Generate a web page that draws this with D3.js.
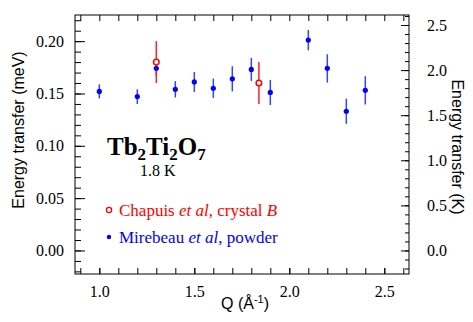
<!DOCTYPE html>
<html>
<head>
<meta charset="utf-8">
<script src="https://cdn.jsdelivr.net/npm/d3@7"></script>
<style>
  body { margin: 0; background: #fff; }
  svg text { font-family: "Liberation Serif", "Times New Roman", serif; }
</style>
</head>
<body>
<svg id="chart"></svg>
<script>
// Mirebeau et al, powder
const qBlue   = [1.0, 1.2, 1.3, 1.4, 1.5, 1.6, 1.7, 1.8, 1.9, 2.1, 2.2, 2.3, 2.4];
const eBlue   = [0.152, 0.147, 0.174, 0.154, 0.161, 0.155, 0.164, 0.173, 0.151, 0.201, 0.174, 0.133, 0.153];
const errBlue = [0.0067, 0.007, 0.0072, 0.0078, 0.0095, 0.0092, 0.012, 0.011, 0.012, 0.0097, 0.0135, 0.012, 0.0135];
// Chapuis et al, crystal B
const qRed   = [1.3, 1.84];
const eRed   = [0.18, 0.16];
const errRed = [0.02, 0.02];

const xTicks = [1.0, 1.5, 2.0, 2.5];
const yTicks = [0, 0.05, 0.10, 0.15, 0.20];
const kTicks = [0, 0.5, 1.0, 1.5, 2.0, 2.5];
const meVtoK = 11.6045;

(function () {
const W = 473, H = 322;
const margin = {top: 15, right: 64, bottom: 48, left: 75},
    width = W - margin.left - margin.right,
    height = H - margin.top - margin.bottom;

const serif = "'Liberation Serif', 'Times New Roman', serif";
const sans = "'Liberation Sans', Arial, sans-serif";

const svg = d3.select("#chart").attr("width", W).attr("height", H)
  .append("g").attr("transform", `translate(${margin.left},${margin.top})`);

const x = d3.scaleLinear().domain([0.872, 2.63]).range([0, width]);
const y = d3.scaleLinear().domain([-0.0225, 0.225]).range([height, 0]);
const yK = d3.scaleLinear().domain(y.domain().map(v => v * meVtoK)).range([height, 0]);

const fmt2 = d3.format(".2f"), fmt1 = d3.format(".1f");
const minorX = d3.range(0.9, 2.65, 0.1);
const minorY = d3.range(-0.02, 0.2201, 0.01);
const minorK = d3.range(-0.2, 2.61, 0.1);

function styleAxis(g) {
  g.attr("font-family", null);
  g.select(".domain").remove();
  g.selectAll("line").attr("stroke", "#000").attr("stroke-width", 1);
  g.selectAll("text").style("font-size", "16px").style("font-family", serif).attr("fill", "#000");
}

// bottom
svg.append("g").attr("transform", `translate(0,${height})`)
  .call(d3.axisBottom(x).tickValues(minorX).tickSize(-6).tickFormat(""))
  .call(styleAxis);
svg.append("g").attr("transform", `translate(0,${height})`)
  .call(d3.axisBottom(x).tickValues(xTicks).tickSize(-6).tickPadding(12).tickFormat(fmt1))
  .call(styleAxis);
// top
svg.append("g")
  .call(d3.axisTop(x).tickValues(minorX).tickSize(-6).tickFormat(""))
  .call(styleAxis);
// left
svg.append("g")
  .call(d3.axisLeft(y).tickValues(minorY).tickSize(-6).tickFormat(""))
  .call(styleAxis);
svg.append("g")
  .call(d3.axisLeft(y).tickValues(yTicks).tickSize(-10).tickPadding(11).tickFormat(fmt2))
  .call(styleAxis);
// right (K)
svg.append("g").attr("transform", `translate(${width},0)`)
  .call(d3.axisRight(yK).tickValues(minorK.filter(v => v > yK.domain()[0] && v < yK.domain()[1])).tickSize(-4).tickFormat(""))
  .call(styleAxis);
svg.append("g").attr("transform", `translate(${width},0)`)
  .call(d3.axisRight(yK).tickValues(kTicks).tickSize(-8).tickPadding(18).tickFormat(fmt1))
  .call(styleAxis);

// frame
svg.append("rect").attr("width", width).attr("height", height)
  .attr("fill", "none").attr("stroke", "#000").attr("stroke-width", 1);

// axis titles
svg.append("text")
  .attr("transform", `translate(${18 - margin.left},${130 - margin.top}) rotate(-90)`)
  .attr("text-anchor", "middle").attr("dominant-baseline", "central")
  .style("font-family", sans).style("font-size", "16px")
  .text("Energy transfer (meV)");
svg.append("text")
  .attr("transform", `translate(${457 - margin.left},${147 - margin.top}) rotate(90)`)
  .attr("text-anchor", "middle").attr("dominant-baseline", "central")
  .style("font-family", sans).style("font-size", "16px")
  .text("Energy transfer (K)");
const xt = svg.append("text")
  .attr("x", 245 - margin.left).attr("y", 309 - margin.top)
  .attr("text-anchor", "middle")
  .style("font-family", sans).style("font-size", "16px");
xt.append("tspan").text("Q (Å");
xt.append("tspan").attr("dy", -6).style("font-size", "11px").text("-1");
xt.append("tspan").attr("dy", 6).text(")");

// data
const blue = qBlue.map((q, i) => ({q, e: eBlue[i], err: errBlue[i]}));
const red = qRed.map((q, i) => ({q, e: eRed[i], err: errRed[i]}));

svg.selectAll(".eb-blue").data(blue).enter().append("line")
  .attr("x1", d => x(d.q)).attr("x2", d => x(d.q))
  .attr("y1", d => y(d.e - d.err)).attr("y2", d => y(d.e + d.err))
  .attr("stroke", "#3344ff").attr("stroke-width", 1.5);
svg.selectAll(".eb-red").data(red).enter().append("line")
  .attr("x1", d => x(d.q)).attr("x2", d => x(d.q))
  .attr("y1", d => y(d.e - d.err)).attr("y2", d => y(d.e + d.err))
  .attr("stroke", "#ff2020").attr("stroke-width", 1.5);
svg.selectAll(".pt-blue").data(blue).enter().append("circle")
  .attr("cx", d => x(d.q)).attr("cy", d => y(d.e)).attr("r", 2.6)
  .attr("fill", "#0000ff");
svg.selectAll(".pt-red").data(red).enter().append("circle")
  .attr("cx", d => x(d.q)).attr("cy", d => y(d.e)).attr("r", 2.8)
  .attr("fill", "#fff").attr("stroke", "#ff0000").attr("stroke-width", 1.5);

// annotations
const tb = svg.append("text")
  .attr("x", 107 - margin.left).attr("y", 155 - margin.top)
  .style("font-size", "25px").style("font-weight", "bold");
[["Tb", false], ["2", true], ["Ti", false], ["2", true], ["O", false], ["7", true]].forEach(([t, sub]) => {
  tb.append("tspan").attr("dy", sub ? 5 : (t === "Tb" ? 0 : -5))
    .style("font-size", sub ? "17px" : "25px").text(t);
});
svg.append("text").attr("x", 140 - margin.left).attr("y", 176 - margin.top)
  .style("font-size", "16px").text("1.8 K");

// legend
svg.append("circle").attr("cx", 109 - margin.left).attr("cy", 210 - margin.top).attr("r", 2.6)
  .attr("fill", "#fff").attr("stroke", "#ff0000").attr("stroke-width", 1.3);
const l1 = svg.append("text").attr("x", 119 - margin.left).attr("y", 216 - margin.top)
  .attr("fill", "#ff0000").style("font-size", "17px");
l1.append("tspan").text("Chapuis ");
l1.append("tspan").style("font-style", "italic").text("et al");
l1.append("tspan").text(", crystal ");
l1.append("tspan").style("font-style", "italic").text("B");

svg.append("circle").attr("cx", 109 - margin.left).attr("cy", 237 - margin.top).attr("r", 2.2)
  .attr("fill", "#0000ff");
const l2 = svg.append("text").attr("x", 119 - margin.left).attr("y", 243 - margin.top)
  .attr("fill", "#0000ff").style("font-size", "17px");
l2.append("tspan").text("Mirebeau ");
l2.append("tspan").style("font-style", "italic").text("et al");
l2.append("tspan").text(", powder");
})();
</script>
</body>
</html>
